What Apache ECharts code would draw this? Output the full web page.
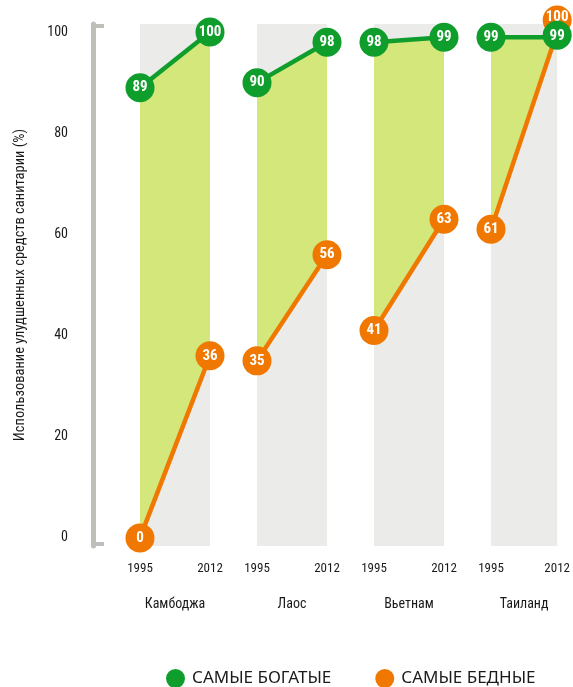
<!DOCTYPE html>
<html><head><meta charset="utf-8">
<script src="https://cdn.jsdelivr.net/npm/echarts@6/dist/echarts.min.js"></script>
<style>html,body{margin:0;padding:0;background:#fff}#c{width:573px;height:687px}</style>
</head><body><div id="c"></div>
<script>
var countries = ['Камбоджа', 'Лаос', 'Вьетнам', 'Таиланд'];
var years = ['1995', '2012'];
var richest1995 = [89, 90, 98, 99];
var richest2012 = [100, 98, 99, 99];
var poorest1995 = [0, 35, 41, 61];
var poorest2012 = [36, 56, 63, 100];
var yTicks = [0, 20, 40, 60, 80, 100];
var yTitle = 'Использование улудшенных средств санитарии (%)';
var legendRich = 'САМЫЕ БОГАТЫЕ';
var legendPoor = 'САМЫЕ БЕДНЫЕ';

var GREEN = '#0f9d2c', ORANGE = '#f07800', FILL = '#d3e77b', BAND = '#ebebea', BRACKET = '#bfbfba';
var NARROW = '"Liberation Sans Narrow", "Roboto Condensed", Roboto, sans-serif';
var YMIN = -1.6, YMAX = 101.6;

var grids = [], xAxes = [], yAxes = [], series = [];
var lefts = [140, 257, 374, 491];
countries.forEach(function (c, i) {
  grids.push({ left: lefts[i], width: 70, top: 24, bottom: 141, show: true, backgroundColor: BAND, borderWidth: 0, containLabel: false });
  xAxes.push({
    gridIndex: i, type: 'category', data: years, boundaryGap: false,
    axisLine: { show: false }, axisTick: { show: false },
    axisLabel: { margin: 16, color: '#1a1a1a', fontFamily: NARROW, fontSize: 13 },
    name: c, nameLocation: 'middle', nameGap: 51,
    nameTextStyle: { color: '#1a1a1a', fontFamily: NARROW, fontSize: 14 }
  });
  var y = { gridIndex: i, type: 'value', min: YMIN, max: YMAX, splitLine: { show: false } };
  if (i === 0) {
    y.offset = 47;
    y.axisLine = { show: true, lineStyle: { color: BRACKET, width: 5 } };
    y.axisTick = { show: true, inside: true, length: 11, customValues: [YMIN + 0.35, YMAX - 0.35], lineStyle: { color: BRACKET, width: 4 } };
    y.axisLabel = { show: true, customValues: yTicks, margin: 25, color: '#1a1a1a', fontFamily: NARROW, fontSize: 14 };
    y.name = yTitle; y.nameLocation = 'middle'; y.nameGap = 65;
    y.nameTextStyle = { color: '#1a1a1a', fontFamily: NARROW, fontSize: 14.5 };
  } else {
    y.axisLine = { show: false }; y.axisTick = { show: false }; y.axisLabel = { show: false };
  }
  yAxes.push(y);

  var rich = [richest1995[i], richest2012[i]];
  var poor = [poorest1995[i], poorest2012[i]];
  series.push({
    type: 'line', xAxisIndex: i, yAxisIndex: i, stack: 'g' + i, stackStrategy: 'all', data: poor,
    symbol: 'none', lineStyle: { opacity: 0 }, silent: true, z: 1
  });
  series.push({
    type: 'line', xAxisIndex: i, yAxisIndex: i, stack: 'g' + i, stackStrategy: 'all',
    data: rich.map(function (v, k) { return v - poor[k]; }),
    symbol: 'none', lineStyle: { opacity: 0 }, areaStyle: { color: FILL, opacity: 1 }, silent: true, z: 1
  });
  var lab = { show: true, position: 'inside', color: '#fff', fontWeight: 'bold', fontFamily: NARROW, fontSize: 15 };
  // collision avoidance when both markers nearly coincide
  var poorItems = poor.map(function (v, k) {
    var o = { value: v };
    if (Math.abs(v - rich[k]) < 3) { o.symbolOffset = [0, -12]; o.label = { offset: [0, -3] }; }
    return o;
  });
  var richItems = rich.map(function (v, k) {
    var o = { value: v };
    if (Math.abs(v - poor[k]) < 3) { o.symbolOffset = [0, -2]; o.label = { offset: [0, 1] }; }
    return o;
  });
  series.push({
    name: legendPoor, type: 'line', xAxisIndex: i, yAxisIndex: i, data: poorItems, clip: false,
    symbol: 'circle', symbolSize: 29, itemStyle: { color: ORANGE }, lineStyle: { color: ORANGE, width: 4.5 },
    label: lab, z: 3
  });
  series.push({
    name: legendRich, type: 'line', xAxisIndex: i, yAxisIndex: i, data: richItems, clip: false,
    symbol: 'circle', symbolSize: 29, itemStyle: { color: GREEN }, lineStyle: { color: GREEN, width: 4.5 },
    label: lab, z: 4
  });
});

var chart = echarts.init(document.getElementById('c'), null, { renderer: 'canvas' });
chart.setOption({
  animation: false,
  grid: grids, xAxis: xAxes, yAxis: yAxes, series: series,
  legend: {
    data: [legendRich, legendPoor], left: 161, top: 664, icon: 'circle',
    itemWidth: 19, itemHeight: 19, itemGap: 44, selectedMode: false,
    textStyle: { color: '#1a1a1a', fontFamily: '"Noto Sans", sans-serif', fontSize: 17, padding: [0, 0, 0, 2] }
  }
});
</script></body></html>
